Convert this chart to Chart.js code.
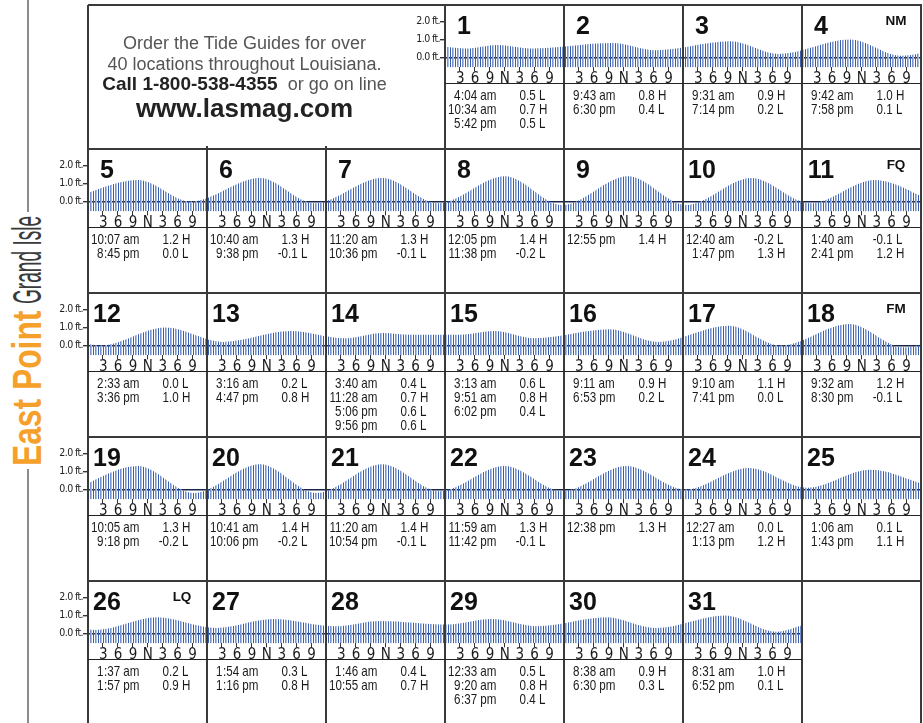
<!DOCTYPE html>
<html>
<head>
<meta charset="utf-8">
<title>East Point Grand Isle tides</title>
<script src="https://cdn.jsdelivr.net/npm/chart.js@4.4.1/dist/chart.umd.min.js"></script>
<style>
  html, body { margin: 0; padding: 0; background: #fff; }
  #page {
    position: relative; width: 923px; height: 723px; overflow: hidden;
    font-family: "Liberation Sans", Arial, sans-serif; color: #1a1a1a;
  }
  #page canvas { position: absolute; z-index: 1; }
  .ln { position: absolute; background: #3a3a3a; z-index: 5; }
  .sep { position: absolute; background: #222; z-index: 5; height: 1.3px; }
  .daynum {
    position: absolute; width: 40px; text-align: center; z-index: 6;
    font: bold 25px/25px "Liberation Sans", Arial, sans-serif; color: #111;
  }
  .phase {
    position: absolute; width: 30px; text-align: center; z-index: 6;
    font: bold 13.5px/13.5px "Liberation Sans", Arial, sans-serif; color: #111;
  }
  /* tide table lines: Liberation Sans squeezed to a narrow face */
  .tl { position: absolute; height: 14px; font-size: 14.5px; line-height: 14px; white-space: nowrap; z-index: 6; color: #1a1a1a; }
  .tl span { position: absolute; top: 0; transform: scaleX(0.8); transform-origin: 0 50%; }
  .tl .hr, .tl .iv { text-align: right; transform-origin: 100% 50%; }
  .ad { position: absolute; left: 88px; width: 313px; text-align: center; white-space: nowrap; z-index: 6; color: #555; }
  .title { position: absolute; left: 0; top: 0; transform-origin: 0 0; white-space: nowrap;
           font: 41px/41px "Liberation Sans", Arial, sans-serif; }
  .rule { position: absolute; left: 27px; width: 2px; background: #8c8c8c; }
</style>
</head>
<body>
<div id="page">
  <div class="rule" style="top:0;height:212px"></div>
  <div class="rule" style="top:469px;height:254px"></div>
  <div class="title" style="color:#f6a02c;font-weight:bold;transform:translate(42px,466px) rotate(-90deg) scaleX(0.775) translate(0,-34.7px)">East Point</div>
  <div class="title" style="color:#3a3a3a;transform:translate(42px,304px) rotate(-90deg) scaleX(0.466) translate(0,-34.7px)">Grand Isle</div>

  <div class="ad" style="top:34px;font-size:18px;line-height:18px">Order the Tide Guides for over</div>
  <div class="ad" style="top:55px;font-size:18px;line-height:18px">40 locations throughout Louisiana.</div>
  <div class="ad" style="top:75px;font-size:18px;line-height:18px"><b style="font-size:19px;color:#222">Call 1-800-538-4355</b>&nbsp; or go on line</div>
  <div class="ad" style="top:95px;font-size:26px;line-height:26px;font-weight:bold;color:#222">www.lasmag.com</div>
</div>

<script>
// tide table, one entry per day of the month
const tideTimes = [
  ["4:04 am", "10:34 am", "5:42 pm"],
  ["9:43 am", "6:30 pm"],
  ["9:31 am", "7:14 pm"],
  ["9:42 am", "7:58 pm"],
  ["10:07 am", "8:45 pm"],
  ["10:40 am", "9:38 pm"],
  ["11:20 am", "10:36 pm"],
  ["12:05 pm", "11:38 pm"],
  ["12:55 pm"],
  ["12:40 am", "1:47 pm"],
  ["1:40 am", "2:41 pm"],
  ["2:33 am", "3:36 pm"],
  ["3:16 am", "4:47 pm"],
  ["3:40 am", "11:28 am", "5:06 pm", "9:56 pm"],
  ["3:13 am", "9:51 am", "6:02 pm"],
  ["9:11 am", "6:53 pm"],
  ["9:10 am", "7:41 pm"],
  ["9:32 am", "8:30 pm"],
  ["10:05 am", "9:18 pm"],
  ["10:41 am", "10:06 pm"],
  ["11:20 am", "10:54 pm"],
  ["11:59 am", "11:42 pm"],
  ["12:38 pm"],
  ["12:27 am", "1:13 pm"],
  ["1:06 am", "1:43 pm"],
  ["1:37 am", "1:57 pm"],
  ["1:54 am", "1:16 pm"],
  ["1:46 am", "10:55 am"],
  ["12:33 am", "9:20 am", "6:37 pm"],
  ["8:38 am", "6:30 pm"],
  ["8:31 am", "6:52 pm"]
];
const tideHeights = [
  [0.5, 0.7, 0.5], [0.8, 0.4], [0.9, 0.2], [1.0, 0.1], [1.2, 0.0], [1.3, -0.1], [1.3, -0.1],
  [1.4, -0.2], [1.4], [-0.2, 1.3], [-0.1, 1.2], [0.0, 1.0], [0.2, 0.8], [0.4, 0.7, 0.6, 0.6],
  [0.6, 0.8, 0.4], [0.9, 0.2], [1.1, 0.0], [1.2, -0.1], [1.3, -0.2], [1.4, -0.2], [1.4, -0.1],
  [1.3, -0.1], [1.3], [0.0, 1.2], [0.1, 1.1], [0.2, 0.9], [0.3, 0.8], [0.4, 0.7],
  [0.5, 0.8, 0.4], [0.9, 0.3], [1.0, 0.1]
];
const tideKinds = [
  "LHL", "HL", "HL", "HL", "HL", "HL", "HL", "HL", "H", "LH", "LH", "LH", "LH", "LHLL",
  "LHL", "HL", "HL", "HL", "HL", "HL", "HL", "HL", "H", "LH", "LH", "LH", "LH", "LH",
  "LHL", "HL", "HL"
];
const moonPhases = { 4: "NM", 11: "FQ", 18: "FM", 26: "LQ" };
const monthStartLevel = 0.6;   // water level at midnight starting the 1st
const monthEndLevel = 0.45;    // water level at midnight ending the 31st
const hourTicks = ["3", "6", "9", "N", "3", "6", "9"];
const levelTicks = [0, 1, 2];
const levelLabels = ["0.0 ft.", "1.0 ft.", "2.0 ft."];
const firstWeekday = 3;        // the 1st sits in the fourth column

// calendar geometry
const ROW_TOP = [5, 149, 293, 437, 581];
const GRID_LEFT = 88, CELL_W = 119, GRID_RIGHT = 921, PAGE_H = 723;
const AXIS_W = 45;
const FLOOR = -0.55;           // bottom of the hatching

const page = document.getElementById("page");

function el(cls, css, html) {
  const d = document.createElement("div");
  d.className = cls;
  Object.assign(d.style, css);
  if (html !== undefined) d.innerHTML = html;
  page.appendChild(d);
  return d;
}

function toHours(t) {
  const [clock, ap] = t.split(" ");
  const [h, m] = clock.split(":").map(Number);
  return (h % 12) + (ap === "pm" ? 12 : 0) + m / 60;
}

// group days into calendar rows
const rows = [];
for (let d = 1; d <= 31; d++) {
  const i = d - 1 + firstWeekday, r = Math.floor(i / 7), c = i % 7;
  if (!rows[r]) rows[r] = { firstCol: c, days: [] };
  rows[r].days.push(d);
}

// grid
ROW_TOP.forEach(y => el("ln", { left: GRID_LEFT + "px", top: (y - 0.7) + "px", width: (GRID_RIGHT - GRID_LEFT + 0.7) + "px", height: "1.4px" }));
for (let c = 0; c <= 7; c++) {
  const x = GRID_LEFT + c * CELL_W;
  const top = (c === 1 || c === 2) ? 146 : ROW_TOP[0];
  el("ln", { left: (x - 0.7) + "px", top: top + "px", width: "1.4px", height: (PAGE_H - top) + "px" });
}

// vertical hatching used for the water level
function hatch() {
  const c = document.createElement("canvas");
  c.width = 5; c.height = 4;
  const g = c.getContext("2d");
  g.fillStyle = "#3a5ea9"; g.fillRect(0, 0, 1, 4);
  g.fillStyle = "#7893cc"; g.fillRect(2, 0, 1, 4);
  g.fillStyle = "#aebfe4"; g.fillRect(3, 0, 1, 4);
  return g.createPattern(c, "repeat");
}

function rowPoints(row) {
  const pts = [];
  const first = row.days[0], last = row.days[row.days.length - 1];
  const span = row.days.length * 24;
  if (first > 1) {
    const k = tideTimes[first - 2].length - 1;
    pts.push({ x: toHours(tideTimes[first - 2][k]) - 24, y: tideHeights[first - 2][k] });
  } else {
    pts.push({ x: 0, y: monthStartLevel });
  }
  row.days.forEach((d, j) => {
    tideTimes[d - 1].forEach((t, k) => pts.push({ x: j * 24 + toHours(t), y: tideHeights[d - 1][k] }));
  });
  if (last < 31) pts.push({ x: span + toHours(tideTimes[last][0]), y: tideHeights[last][0] });
  else pts.push({ x: span, y: monthEndLevel });
  return pts;
}

Chart.defaults.font.family = '"DejaVu Sans Condensed", "Liberation Sans", sans-serif';
Chart.defaults.color = "#1a1a1a";

// tighter lettering for the axis text
const tightText = {
  id: "tightText",
  beforeDraw(chart) { chart.ctx.letterSpacing = "-0.6px"; }
};

rows.forEach((row, r) => {
  const n = row.days.length;
  const left = GRID_LEFT + row.firstCol * CELL_W;
  const rowTop = ROW_TOP[r];

  const cv = document.createElement("canvas");
  cv.width = AXIS_W + n * CELL_W;
  cv.height = 75;
  cv.style.left = (left - AXIS_W) + "px";
  cv.style.top = (rowTop + 5) + "px";
  page.appendChild(cv);

  new Chart(cv, {
    type: "line",
    data: {
      datasets: [{
        data: rowPoints(row),
        fill: { value: FLOOR },
        backgroundColor: hatch(),
        borderColor: "rgba(0,0,0,0)",
        borderWidth: 0,
        pointRadius: 0,
        cubicInterpolationMode: "monotone"
      }]
    },
    plugins: [tightText],
    options: {
      responsive: false,
      animation: false,
      events: [],
      layout: { padding: { top: 11.5, left: 0, right: 0, bottom: 0 } },
      plugins: { legend: { display: false }, tooltip: { enabled: false } },
      scales: {
        x: {
          type: "linear",
          min: 0,
          max: n * 24,
          afterBuildTicks: s => {
            const t = [];
            for (let h = 3; h < n * 24; h += 3) if (h % 24) t.push({ value: h });
            s.ticks = t;
          },
          afterFit: s => { s.height = 17.6; },
          grid: { drawOnChartArea: false, drawTicks: true, tickLength: 4, color: "#333", lineWidth: 1 },
          border: { display: false },
          ticks: {
            autoSkip: false, maxRotation: 0, minRotation: 0, padding: 0,
            font: { size: 15, lineHeight: 1 }, color: "#1a1a1a",
            callback: v => hourTicks[(v % 24) / 3 - 1]
          }
        },
        y: {
          min: FLOOR,
          max: 2,
          z: 1,
          afterBuildTicks: s => { s.ticks = levelTicks.map(v => ({ value: v })); },
          afterFit: s => { s.width = AXIS_W; },
          grid: {
            color: c => (c.tick && c.tick.value === 0) ? "#17264a" : "rgba(0,0,0,0)",
            lineWidth: 1.4, tickColor: "#333", tickLength: 5
          },
          border: { color: "#9a3a33", width: 1.2 },
          ticks: {
            padding: 0, font: { size: 10.5 }, color: "#222",
            callback: v => levelLabels[levelTicks.indexOf(v)]
          }
        }
      }
    }
  });

  // line under the hour labels
  el("sep", { left: left + "px", top: (rowTop + 78) + "px", width: (n * CELL_W) + "px" });

  row.days.forEach((d, j) => {
    const cx = left + j * CELL_W;
    el("daynum", { left: (cx + 19 - 20) + "px", top: (rowTop + 7.7) + "px" }, String(d));
    if (moonPhases[d]) el("phase", { left: (cx + 94 - 15) + "px", top: (rowTop + 8.5) + "px" }, moonPhases[d]);

    tideTimes[d - 1].forEach((t, k) => {
      const cut = t.indexOf(":");
      const v = tideHeights[d - 1][k].toFixed(1);
      const dot = v.indexOf(".");
      const line = el("tl", { left: cx + "px", top: (rowTop + 83 + 14 * k) + "px", width: CELL_W + "px" });
      line.innerHTML =
        '<span class="hr" style="left:0;width:15.5px">' + t.slice(0, cut) + '</span>' +
        '<span style="left:15.5px">' + t.slice(cut) + '</span>' +
        '<span class="iv" style="left:61px;width:20px">' + v.slice(0, dot) + '</span>' +
        '<span style="left:81px">' + v.slice(dot) + " " + tideKinds[d - 1][k] + '</span>';
    });
  });
});
</script>
</body>
</html>
